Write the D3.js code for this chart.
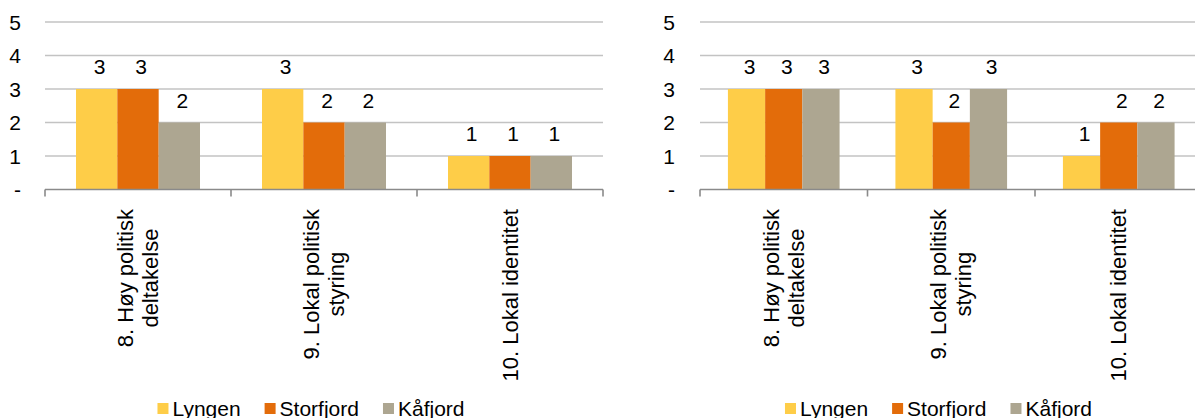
<!DOCTYPE html>
<html>
<head>
<meta charset="utf-8">
<script src="https://cdn.jsdelivr.net/npm/d3@7/dist/d3.min.js"></script>
<style>
  html, body { margin: 0; padding: 0; background: #fff; }
  svg { display: block; font-family: "Liberation Sans", Arial, sans-serif; }
</style>
</head>
<body>
<svg id="chart" width="1195" height="418"></svg>
<script>
// ---- data ----
const categories = ["8. Høy politisk\ndeltakelse", "9. Lokal politisk\nstyring", "10. Lokal identitet"];
const series = ["Lyngen", "Storfjord", "Kåfjord"];
const seriesColors = ["#FECD48", "#E36C0A", "#ADA691"];
const yTickValues = [0, 1, 2, 3, 4, 5];
const yTickLabels = ["-", "1", "2", "3", "4", "5"];

// left chart values per series
const leftLyngen = [3, 3, 1];
const leftStorfjord = [3, 2, 1];
const leftKafjord = [2, 2, 1];
// right chart values per series
const rightLyngen = [3, 3, 1];
const rightStorfjord = [3, 2, 2];
const rightKafjord = [3, 3, 2];

const svg = d3.select("#chart");
const FONT = 21;
const CAT_FONT = 22;

function drawChart(cfg) {
  const g = svg.append("g");
  const values = cfg.values; // array per series
  const x = d3.scaleBand().domain(categories).range([cfg.plotLeft, cfg.plotRight]).padding(0);
  const xs = d3.scaleBand().domain(series).range([0, x.bandwidth()]).paddingInner(0).paddingOuter(0.75);
  const y = d3.scaleLinear().domain([0, 5]).range([189.5, 22]);

  // gridlines
  g.selectAll("line.grid").data(yTickValues.filter(v => v > 0)).join("line")
    .attr("x1", cfg.plotLeft).attr("x2", cfg.plotRight)
    .attr("y1", d => y(d)).attr("y2", d => y(d))
    .attr("stroke", "#C3C3C3").attr("stroke-width", 1.6);

  // y labels
  g.selectAll("text.ylab").data(yTickValues).join("text")
    .attr("x", cfg.labelRight).attr("y", d => y(d)).attr("dy", "0.36em")
    .attr("text-anchor", "end").attr("font-size", FONT).attr("fill", "#000")
    .text((d, i) => yTickLabels[i]);

  // bars
  const rows = [];
  categories.forEach((c, ci) => series.forEach((s, si) => rows.push({c, s, si, v: values[si][ci]})));
  g.selectAll("rect.bar").data(rows).join("rect")
    .attr("x", d => x(d.c) + xs(d.s))
    .attr("width", xs.bandwidth())
    .attr("y", d => y(d.v))
    .attr("height", d => y(0) - y(d.v))
    .attr("fill", d => seriesColors[d.si]);

  // value labels
  g.selectAll("text.val").data(rows).join("text")
    .attr("x", d => x(d.c) + xs(d.s) + xs.bandwidth() / 2 + 3)
    .attr("y", d => y(d.v) - 15)
    .attr("text-anchor", "middle").attr("font-size", FONT).attr("fill", "#000")
    .text(d => d.v);

  // x axis line and ticks
  g.append("line")
    .attr("x1", cfg.plotLeft).attr("x2", cfg.plotRight)
    .attr("y1", y(0)).attr("y2", y(0))
    .attr("stroke", "#8A8A8A").attr("stroke-width", 1.6);
  const bounds = d3.range(categories.length + 1).map(i => cfg.plotLeft + i * x.bandwidth());
  g.selectAll("line.tick").data(bounds).join("line")
    .attr("x1", d => d).attr("x2", d => d)
    .attr("y1", y(0)).attr("y2", y(0) + 7)
    .attr("stroke", "#8A8A8A").attr("stroke-width", 1.6);

  // category labels (rotated)
  categories.forEach(c => {
    const lines = c.split("\n");
    const lg = g.append("g")
      .attr("transform", `translate(${x(c) + x.bandwidth() / 2},209) rotate(-90)`);
    const texts = lines.map((ln, i) => lg.append("text")
      .attr("font-size", CAT_FONT).attr("fill", "#000")
      .attr("text-anchor", "middle")
      .attr("y", (i - (lines.length - 1) / 2) * 25 + 7.5)
      .text(ln));
    const maxW = d3.max(texts, t => t.node().getComputedTextLength());
    texts.forEach(t => t.attr("x", -maxW / 2));
  });

  // legend
  const lg = g.append("g");
  const items = series.map((s, i) => {
    const it = lg.append("g");
    it.append("rect").attr("x", 0).attr("y", 403).attr("width", 11).attr("height", 11)
      .attr("fill", seriesColors[i]);
    const t = it.append("text").attr("x", 15).attr("y", 415.5)
      .attr("font-size", FONT).attr("fill", "#000").text(s);
    return {it, w: 15 + t.node().getComputedTextLength()};
  });
  const gap = 24;
  const total = d3.sum(items, d => d.w) + gap * (items.length - 1);
  let cx = cfg.legendCenter - total / 2;
  items.forEach(d => { d.it.attr("transform", `translate(${cx},0)`); cx += d.w + gap; });
}

drawChart({
  plotLeft: 45, plotRight: 603, labelRight: 21, legendCenter: 311,
  values: [leftLyngen, leftStorfjord, leftKafjord]
});
drawChart({
  plotLeft: 700, plotRight: 1202.5, labelRight: 675, legendCenter: 938.5,
  values: [rightLyngen, rightStorfjord, rightKafjord]
});
</script>
</body>
</html>
